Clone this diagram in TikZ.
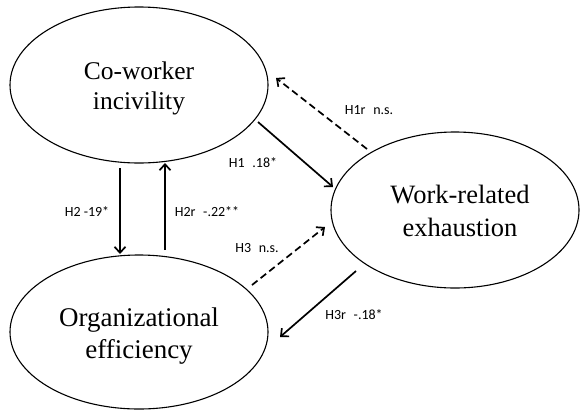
\documentclass[tikz,border=0pt]{standalone}
\usepackage{fontspec}
\setmainfont{Liberation Serif}
\newfontfamily\lblfont{Carlito}
\usetikzlibrary{arrows.meta}
\tikzset{
  latent/.style={line width=1.1pt},
  ltext/.style={align=center, inner sep=0pt},
  path/.style={line width=1.7pt, -{Straight Barb[length=6pt,width=11pt,line width=1.7pt]}},
  nspath/.style={path, dash pattern=on 7pt off 4pt},
  lbl/.style={font=\lblfont\fontsize{14}{16}\selectfont, inner sep=0pt, anchor=center}
}
\newcommand{\gp}{\hspace{0.55em}}
\begin{document}
\begin{tikzpicture}[x=1pt,y=-1pt]
\useasboundingbox (0,0) rectangle (580,410);
% ellipses
\draw[latent] (139,85) ellipse [x radius=129, y radius=78];
\draw[latent] (455,210) ellipse [x radius=124, y radius=78];
\draw[latent] (139,332) ellipse [x radius=129, y radius=77];
\node[ltext, font=\fontsize{25.5}{30}\selectfont] (ci) at (139,88) {Co-worker\\incivility};
\node[ltext, font=\fontsize{26.5}{33}\selectfont] (we) at (460,211) {Work-related\\exhaustion};
\node[ltext, font=\fontsize{27}{32.5}\selectfont] (oe) at (139,336) {Organizational\\efficiency};
% connector endpoints
\coordinate (a1s) at (367,149); \coordinate (a1e) at (276,78);
\coordinate (b1s) at (258,122); \coordinate (b1e) at (333,187);
\coordinate (c1s) at (252,285); \coordinate (c1e) at (325,227);
\coordinate (d1s) at (356,271); \coordinate (d1e) at (280,337);
\coordinate (e1s) at (120,168); \coordinate (e1e) at (120,254);
\coordinate (f1s) at (165,250); \coordinate (f1e) at (165,163);
\draw[nspath] (a1s) -- (a1e);
\draw[path] (b1s) -- (b1e);
\draw[nspath] (c1s) -- (c1e);
\draw[path] (d1s) -- (d1e);
\draw[path] (e1s) -- (e1e);
\draw[path] (f1s) -- (f1e);
% labels
\node[lbl] (l1) at (369,110) {H1r\gp n.s.};
\node[lbl] (l2) at (253,163) {H1\gp .18*};
\node[lbl] (l3) at (87,212) {H2 -19*};
\node[lbl] (l4) at (207,212) {H2r\gp -.22**};
\node[lbl] (l5) at (257,248) {H3\gp n.s.};
\node[lbl] (l6) at (354,315) {H3r\gp -.18*};
\end{tikzpicture}
\end{document}
